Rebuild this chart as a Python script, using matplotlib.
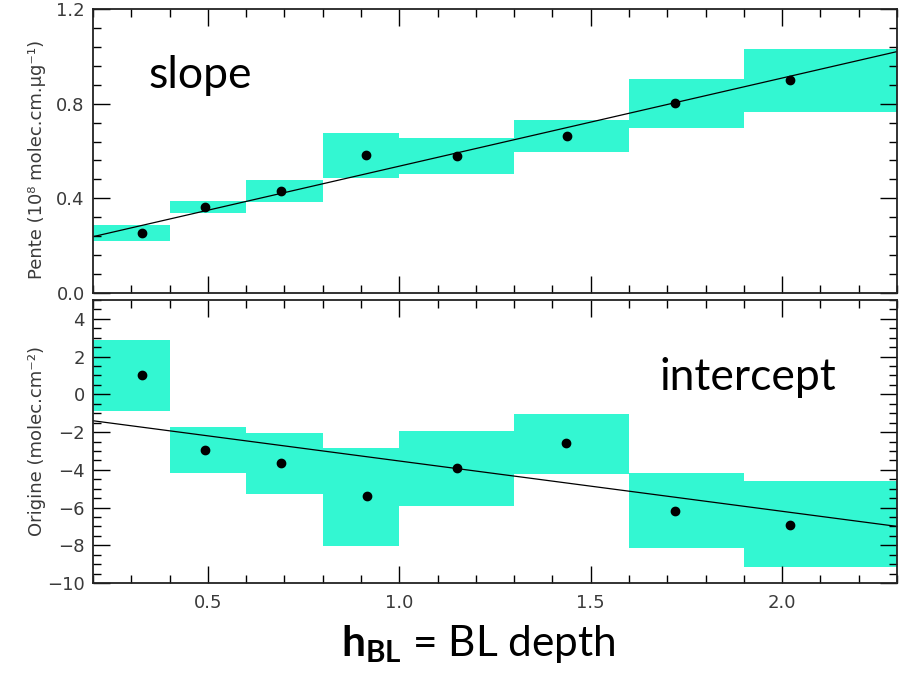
import matplotlib
matplotlib.use("Agg")
import matplotlib.pyplot as plt
from matplotlib.ticker import MultipleLocator, FormatStrFormatter

# bins of boundary-layer depth (km)
bin_edges = [0.2, 0.4, 0.6, 0.8, 1.0, 1.3, 1.6, 1.9, 2.3]

# slope panel
slope_lo = [0.219, 0.337, 0.383, 0.488, 0.501, 0.594, 0.699, 0.766]
slope_hi = [0.286, 0.390, 0.476, 0.674, 0.653, 0.733, 0.905, 1.032]
slope_x = [0.327, 0.493, 0.690, 0.912, 1.151, 1.438, 1.720, 2.021]
slope_y = [0.253, 0.362, 0.430, 0.585, 0.577, 0.665, 0.804, 0.901]

# intercept panel
icpt_lo = [-0.88, -4.16, -5.28, -8.04, -5.92, -4.22, -8.15, -9.15]
icpt_hi = [2.88, -1.75, -2.06, -2.85, -1.94, -1.05, -4.18, -4.59]
icpt_x = [0.327, 0.493, 0.690, 0.915, 1.151, 1.436, 1.720, 2.021]
icpt_y = [1.02, -2.95, -3.64, -5.39, -3.90, -2.58, -6.18, -6.93]

# fitted lines (end points)
fit_x = [0.2, 2.3]
slope_fit = [0.238, 1.020]
icpt_fit = [-1.40, -7.00]

FILL = '#33F7D2'
TICK_COLOR = '#3a3a3a'

fig = plt.figure(figsize=(8.99, 6.75), dpi=100)
ax1 = fig.add_axes([93 / 899, 382 / 675, 804 / 899, 284 / 675])
ax2 = fig.add_axes([93 / 899, 92 / 675, 804 / 899, 283 / 675])

lefts = bin_edges[:-1]
widths = [b - a for a, b in zip(bin_edges[:-1], bin_edges[1:])]


def draw_panel(ax, lo, hi, px, py, fit_y):
    ax.bar(lefts, [h - l for l, h in zip(lo, hi)], width=widths, bottom=lo,
           align='edge', color=FILL, linewidth=0, zorder=1)
    ax.plot(fit_x, fit_y, color='black', linewidth=0.9, zorder=2)
    ax.plot(px, py, 'o', color='black', markersize=6, zorder=3)
    ax.set_xlim(0.2, 2.3)
    ax.xaxis.set_major_locator(MultipleLocator(0.5))
    ax.xaxis.set_minor_locator(MultipleLocator(0.1))
    ax.tick_params(which='both', direction='in', top=True, right=True,
                   colors='black', labelcolor=TICK_COLOR, labelsize=13,
                   width=1)
    ax.tick_params(which='major', length=12, pad=6)
    ax.tick_params(which='minor', length=6)
    for s in ax.spines.values():
        s.set_linewidth(1.3)
        s.set_color('#222222')


draw_panel(ax1, slope_lo, slope_hi, slope_x, slope_y, slope_fit)
ax1.set_ylim(0, 1.2)
ax1.yaxis.set_major_locator(MultipleLocator(0.4))
ax1.yaxis.set_minor_locator(MultipleLocator(0.08))
ax1.yaxis.set_major_formatter(FormatStrFormatter('%.1f'))
ax1.tick_params(axis='x', labelbottom=False)
ax1.set_ylabel('Pente (10⁸ molec.cm.µg⁻¹)', fontsize=13, color=TICK_COLOR)

draw_panel(ax2, icpt_lo, icpt_hi, icpt_x, icpt_y, icpt_fit)
ax2.set_ylim(-10, 5)
ax2.yaxis.set_major_locator(MultipleLocator(2))
ax2.yaxis.set_minor_locator(MultipleLocator(0.5))
ax2.xaxis.set_major_formatter(FormatStrFormatter('%.1f'))
ax2.tick_params(axis='x', pad=8)
ax2.set_ylabel('Origine (molec.cm⁻²)', fontsize=13, color=TICK_COLOR)
ax1.yaxis.set_label_coords(-0.058, 0.47)
ax2.yaxis.set_label_coords(-0.058, 0.5)

# annotations
plt.rcParams['mathtext.fontset'] = 'custom'
plt.rcParams['mathtext.rm'] = 'Lato'
plt.rcParams['mathtext.bf'] = 'Lato:bold'

fig.text(148 / 899, 1 - 88 / 675, 'slope', family='Lato', fontsize=32,
         ha='left', va='baseline')
fig.text(660 / 899, 1 - 390 / 675, 'intercept', family='Lato', fontsize=32,
         ha='left', va='baseline')
fig.text(478 / 899, 1 - 656 / 675, r'$\mathbf{h}_{\mathbf{BL}}$ = BL depth',
         family='Lato', fontsize=30.5, ha='center', va='baseline')

fig.savefig('out.png', dpi=100)
